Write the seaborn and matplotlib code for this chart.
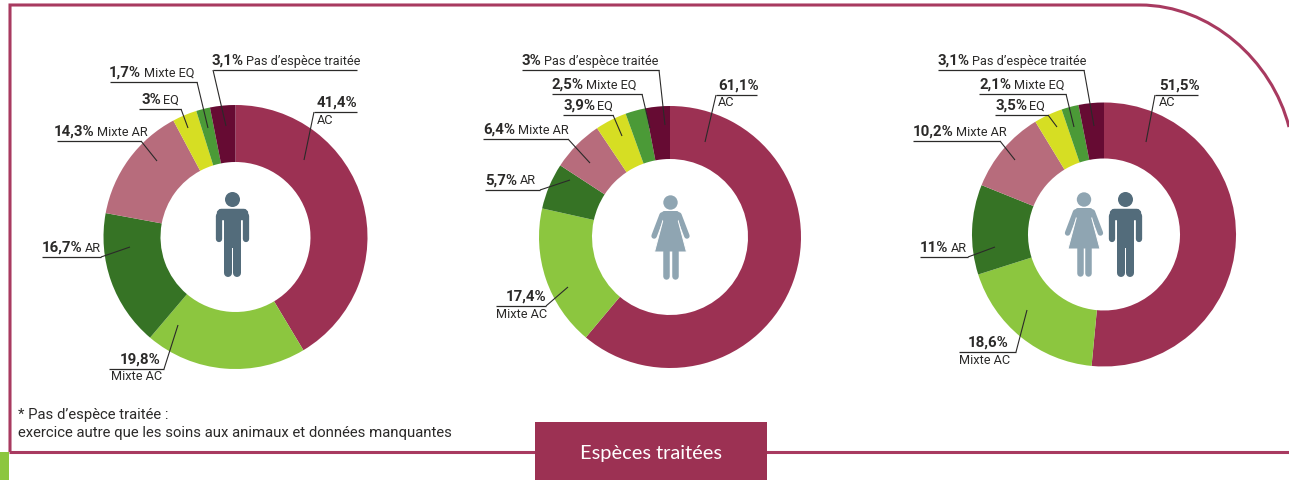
import matplotlib
matplotlib.use("Agg")
import matplotlib.pyplot as plt
from matplotlib.patches import Circle, Polygon, PathPatch, Rectangle, FancyBboxPatch
from matplotlib.path import Path
import seaborn as sns

# shares, in the order they run clockwise from 12 o'clock
categories = ["AC", "Mixte AC", "AR", "Mixte AR", "EQ", "Mixte EQ", "Pas d\u2019esp\u00e8ce trait\u00e9e"]
values_men = [41.4, 19.8, 16.7, 14.3, 3, 1.7, 3.1]
values_women = [61.1, 17.4, 5.7, 6.4, 3.9, 2.5, 3]
values_all = [51.5, 18.6, 11, 10.2, 3.5, 2.1, 3.1]
labels_men = ["41,4%", "19,8%", "16,7%", "14,3%", "3%", "1,7%", "3,1%"]
labels_women = ["61,1%", "17,4%", "5,7%", "6,4%", "3,9%", "2,5%", "3%"]
labels_all = ["51,5%", "18,6%", "11%", "10,2%", "3,5%", "2,1%", "3,1%"]
colors = ["#9C3153", "#8CC63F", "#367325", "#B76C7C", "#D6DE23", "#4B9A37", "#660B33"]

title = "Esp\u00e8ces trait\u00e9es"
note1 = "* Pas d\u2019esp\u00e8ce trait\u00e9e :"
note2 = "exercice autre que les soins aux animaux et donn\u00e9es manquantes"

W, H = 1289, 480
MAN = "#536C7B"
WOMAN = "#8FA5B2"
LINE = "#A83A60"
INK = "#2B2A29"

sns.set_theme(style="white")
plt.rcParams["font.family"] = ["Roboto", "Liberation Sans", "DejaVu Sans"]

fig = plt.figure(figsize=(W / 100, H / 100), dpi=100)


def donut(values, cx, cy, r, hole):
    a = fig.add_axes([(cx - r) / W, 1 - (cy + r) / H, 2 * r / W, 2 * r / H])
    a.pie(values, colors=sns.color_palette(colors), startangle=90, counterclock=False,
          radius=1, wedgeprops=dict(width=1 - hole / r, linewidth=0))
    a.set_xlim(-1, 1)
    a.set_ylim(-1, 1)
    a.axis("off")


donut(values_men, 235.5, 237, 132, 75)
donut(values_women, 670, 237, 131, 78)
donut(values_all, 1104, 234.5, 132, 76)

ax = fig.add_axes([0, 0, 1, 1], facecolor="none")
ax.set_xlim(0, W)
ax.set_ylim(H, 0)
ax.axis("off")

# outer frame with the rounded corner top right
frame = Path([(10, 452), (10, 5), (1140, 5), (1210, 5), (1272, 60), (1289, 127)],
             [Path.MOVETO, Path.LINETO, Path.LINETO, Path.CURVE4, Path.CURVE4, Path.CURVE4])
ax.add_patch(PathPatch(frame, fc="none", ec=LINE, lw=2.2))
ax.plot([9, W], [452, 452], color=LINE, lw=2.2, solid_capstyle="butt")
ax.add_patch(Rectangle((0, 452), 9, 28, fc=colors[1], lw=0))
ax.add_patch(Rectangle((535, 422), 232, 58, fc=colors[0], lw=0, zorder=3))
ax.text(651, 453, title, color="white", family="Lato", fontsize=14.4, ha="center", va="center", zorder=4)
ax.text(18, 415, note1, color=INK, fontsize=10.7, va="center")
ax.text(18, 433, note2, color=INK, fontsize=10.7, va="center")

renderer = fig.canvas.get_renderer()


def callout(pct, name, x, y, line, tip, below=False):
    # x, y = left edge and middle of the text, line = underline x0, x1, tip = leader end
    t = ax.text(x, y, pct, color=INK, fontsize=10.8, weight="bold", va="center")
    if below:
        ax.text(below, y + 17, name, color=INK, fontsize=9.2, va="center")
    else:
        right = t.get_window_extent(renderer).x1
        ax.text(right + 2.5, y, name, color=INK, fontsize=9.2, va="center")
    uy = y + 9
    start = line[1] if tip[0] > line[1] - 5 else line[0]
    ax.plot(line, [uy, uy], color=INK, lw=0.9, solid_capstyle="butt")
    ax.plot([start, tip[0]], [uy, tip[1]], color=INK, lw=0.8, solid_capstyle="butt")


# men
callout(labels_men[6], categories[6], 211, 61, (213, 357), (226, 126))
callout(labels_men[5], categories[5], 109, 73, (110, 197), (208, 128))
callout(labels_men[4], categories[4], 141, 100, (139, 181), (188, 128))
callout(labels_men[3], categories[3], 54, 132, (57, 141), (157, 161))
callout(labels_men[0], categories[0], 317, 103, (314, 357), (304, 160), below=317)
callout(labels_men[2], categories[2], 42, 248, (42, 101), (130, 247))
callout(labels_men[1], categories[1], 120, 360, (109, 164), (178, 325), below=111)

# women
callout(labels_women[6], categories[6], 522, 61, (522, 659), (665, 125))
callout(labels_women[5], categories[5], 552, 85, (552, 642), (650, 128))
callout(labels_women[4], categories[4], 563, 106, (563, 613), (622, 136))
callout(labels_women[3], categories[3], 483, 130, (483, 568), (590, 163))
callout(labels_women[2], categories[2], 485, 181, (485, 540), (570, 180))
callout(labels_women[1], categories[1], 506, 297, (496, 546), (568, 287), below=496)
callout(labels_women[0], categories[0], 718, 86, (716, 757), (705, 142), below=718)

# both
callout(labels_all[6], categories[6], 938, 61, (938, 1084), (1094, 126))
callout(labels_all[5], categories[5], 979, 85, (979, 1066), (1074, 127))
callout(labels_all[4], categories[4], 995, 106, (995, 1048), (1057, 127))
callout(labels_all[3], categories[3], 913, 132, (913, 1000), (1015, 160))
callout(labels_all[2], categories[2], 920, 248, (920, 968), (995, 247))
callout(labels_all[1], categories[1], 968, 343, (959, 1016), (1027, 310), below=959)
callout(labels_all[0], categories[0], 1159, 86, (1155, 1198), (1146, 142), below=1159)


def thick(xs, ys, color, px, z=2):
    ax.plot(xs, ys, color=color, lw=px * 0.72, solid_capstyle="round", solid_joinstyle="round", zorder=z)


def man(cx, top):
    ax.add_patch(Circle((cx, top + 7.5), 7.5, fc=MAN, lw=0))
    thick([cx - 13.3, cx - 13.3], [top + 24, top + 47], MAN, 6.3)
    thick([cx + 13.3, cx + 13.3], [top + 24, top + 47], MAN, 6.3)
    ax.add_patch(FancyBboxPatch((cx - 14, top + 18.5), 28, 8, boxstyle="round,pad=0,rounding_size=3",
                                fc=MAN, ec=MAN, lw=2.5))
    ax.add_patch(Rectangle((cx - 8.7, top + 22), 17.4, 34, fc=MAN, lw=0))
    thick([cx - 4.3, cx - 4.3], [top + 50, top + 81], MAN, 8)
    thick([cx + 4.3, cx + 4.3], [top + 50, top + 81], MAN, 8)


def woman(cx, top):
    ax.add_patch(Circle((cx, top + 7.5), 7.2, fc=WOMAN, lw=0))
    thick([cx - 8.4, cx - 16.4], [top + 20, top + 41], WOMAN, 5.5)
    thick([cx + 8.4, cx + 16.4], [top + 20, top + 41], WOMAN, 5.5)
    ax.add_patch(Polygon([(cx - 7, top + 23), (cx + 7, top + 23), (cx + 16, top + 57), (cx - 16, top + 57)],
                         fc=WOMAN, ec="white", lw=0.7, joinstyle="miter", zorder=3))
    ax.add_patch(FancyBboxPatch((cx - 9, top + 16), 18, 10, boxstyle="round,pad=0,rounding_size=3",
                                fc=WOMAN, lw=0, zorder=3))
    thick([cx - 4.2, cx - 4.2], [top + 56, top + 81], WOMAN, 6.5, z=4)
    thick([cx + 4.2, cx + 4.2], [top + 56, top + 81], WOMAN, 6.5, z=4)


man(232.5, 192)
woman(670.5, 195)
woman(1084, 192)
man(1125.5, 192)

fig.savefig("out.png", dpi=100)
